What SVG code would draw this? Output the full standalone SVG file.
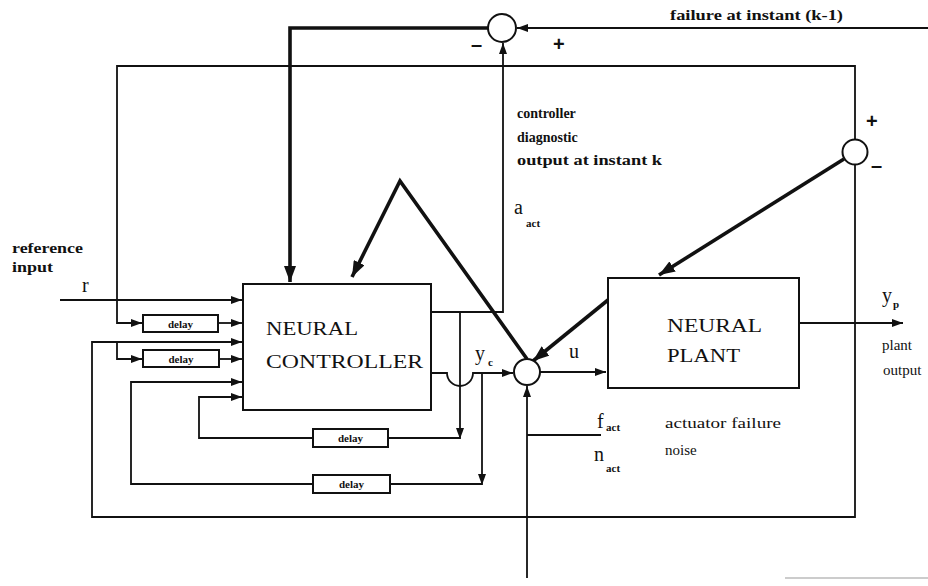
<svg xmlns="http://www.w3.org/2000/svg" width="928" height="586" viewBox="0 0 928 586">
<style>
.thin{stroke:#111;stroke-width:1.8;fill:none}
.thick{stroke:#111;stroke-width:3.6;fill:none;stroke-linejoin:miter}
.box{stroke:#111;stroke-width:2;fill:#fff}
.sum{stroke:#111;stroke-width:2;fill:#fff}
.lbl{font-family:"Liberation Serif",serif;font-weight:bold;font-size:14px;fill:#111}
.sign{font-family:"Liberation Sans",sans-serif;font-weight:bold;font-size:20px;fill:#111}
.reg{font-family:"Liberation Serif",serif;font-size:15px;fill:#111}
.big{font-family:"Liberation Serif",serif;font-size:19px;fill:#111}
.sym{font-family:"Liberation Serif",serif;font-size:20px;fill:#111}
.sub{font-family:"Liberation Serif",serif;font-weight:bold;font-size:11px;fill:#111}
.dl{font-family:"Liberation Serif",serif;font-weight:bold;font-size:11px;fill:#111;text-anchor:middle}
</style>
<defs>
<marker id="a" markerUnits="userSpaceOnUse" markerWidth="11" markerHeight="8" refX="11" refY="4" orient="auto"><path d="M0,0 L11,4 L0,8 z" fill="#111"/></marker>
<marker id="A" markerUnits="userSpaceOnUse" markerWidth="16" markerHeight="12" refX="16" refY="6" orient="auto"><path d="M0,0 L16,6 L0,12 z" fill="#111"/></marker>
</defs>
<rect width="928" height="586" fill="#fff"/>

<g id="connectors">
<path class="thin" d="M928,28 L517,28" marker-end="url(#a)"/>
<path class="thick" d="M488,28 L290,28 L290,282" marker-end="url(#A)"/>
<path class="thin" d="M431,312 L503,312 L503,43" marker-end="url(#a)"/>
<path class="thin" d="M855,140 L855,66 L117,66 L117,323 L142,323" marker-end="url(#a)"/>
<path class="thin" d="M60,300 L242,300" marker-end="url(#a)"/>
<path class="thin" d="M218,323 L242,323" marker-end="url(#a)"/>
<path class="thin" d="M855,165 L855,517 L92,517 L92,342 L242,342" marker-end="url(#a)"/>
<path class="thin" d="M117,342 L117,359 L142,359" marker-end="url(#a)"/>
<path class="thin" d="M219,359 L242,359" marker-end="url(#a)"/>
<path class="thin" d="M460,312 L460,439" marker-end="url(#a)"/>
<path class="thin" d="M460,438 L388,438"/>
<path class="thin" d="M313,438 L199,438 L199,397 L242,397" marker-end="url(#a)"/>
<path class="thin" d="M482,373 L482,485" marker-end="url(#a)"/>
<path class="thin" d="M482,484 L390,484"/>
<path class="thin" d="M313,484 L131,484 L131,382 L242,382" marker-end="url(#a)"/>
<path class="thin" d="M431,373 L447,373 A13,13 0 0 0 473,373 L513,373" marker-end="url(#a)"/>
<path class="thin" d="M540,372 L606,372" marker-end="url(#a)"/>
<path class="thin" d="M799,323 L903,323" marker-end="url(#a)"/>
<path class="thin" d="M527,578 L527,386" marker-end="url(#a)"/>
<path class="thin" d="M527,435 L601,435"/>
<path class="thick" d="M527,359 L400,181 L352,277" marker-end="url(#A)"/>
<path class="thick" d="M608,300 L533,361" marker-end="url(#A)"/>
<path class="thick" d="M844,159 L659,275" marker-end="url(#A)"/>
<path d="M785,578 L928,578" stroke="#bbb" stroke-width="1.5" fill="none"/>
</g>

<g id="sum-top"><circle class="sum" cx="502" cy="28" r="14"/></g>
<g id="sum-main"><circle class="sum" cx="527" cy="372" r="13"/></g>
<g id="sum-right"><circle class="sum" cx="855" cy="152" r="12.5"/></g>

<g id="controller">
<rect class="box" x="243" y="284" width="188" height="126"/>
<text class="big" x="266" y="335" textLength="92" lengthAdjust="spacingAndGlyphs">NEURAL</text>
<text class="big" x="266" y="368" textLength="157" lengthAdjust="spacingAndGlyphs">CONTROLLER</text>
</g>
<g id="plant">
<rect class="box" x="608" y="278" width="191" height="110"/>
<text class="big" x="667" y="332" textLength="95" lengthAdjust="spacingAndGlyphs">NEURAL</text>
<text class="big" x="667" y="362" textLength="73" lengthAdjust="spacingAndGlyphs">PLANT</text>
</g>
<g id="delay1"><rect class="box" x="143" y="315" width="75" height="17"/><text class="dl" x="180.5" y="327.5">delay</text></g>
<g id="delay2"><rect class="box" x="143" y="350" width="76" height="17"/><text class="dl" x="181" y="362.5">delay</text></g>
<g id="delay3"><rect class="box" x="313" y="429" width="75" height="18"/><text class="dl" x="350.5" y="442">delay</text></g>
<g id="delay4"><rect class="box" x="313" y="475" width="77" height="18"/><text class="dl" x="351.5" y="488">delay</text></g>

<g id="labels">
<text class="lbl" x="670" y="20" textLength="173" lengthAdjust="spacingAndGlyphs">failure at  instant  (k-1)</text>
<text class="sign" x="471" y="51">–</text>
<text class="sign" x="553" y="51">+</text>
<text class="sign" x="866" y="128">+</text>
<text class="sign" x="871" y="172">–</text>
<text class="lbl" x="517" y="118">controller</text>
<text class="lbl" x="517" y="142">diagnostic</text>
<text class="lbl" x="517" y="165" textLength="145" lengthAdjust="spacingAndGlyphs">output at  instant  k</text>
<text class="sym" x="514" y="214">a</text>
<text class="sub" x="526" y="227">act</text>
<text class="lbl" x="12" y="253" textLength="71" lengthAdjust="spacingAndGlyphs">reference</text>
<text class="lbl" x="12" y="272" textLength="41" lengthAdjust="spacingAndGlyphs">input</text>
<text class="sym" x="82" y="292">r</text>
<text class="sym" x="475" y="360">y</text>
<text class="sub" x="488" y="366">c</text>
<text class="sym" x="569" y="358">u</text>
<text class="sym" x="882" y="302">y</text>
<text class="sub" x="893" y="308">p</text>
<text class="reg" x="882" y="350">plant</text>
<text class="reg" x="883" y="375">output</text>
<text class="sym" x="597" y="428">f</text>
<text class="sub" x="606" y="431">act</text>
<text class="sym" x="594" y="461">n</text>
<text class="sub" x="606" y="472">act</text>
<text class="reg" x="665" y="428" textLength="116" lengthAdjust="spacingAndGlyphs">actuator failure</text>
<text class="reg" x="665" y="455">noise</text>
</g>
</svg>
